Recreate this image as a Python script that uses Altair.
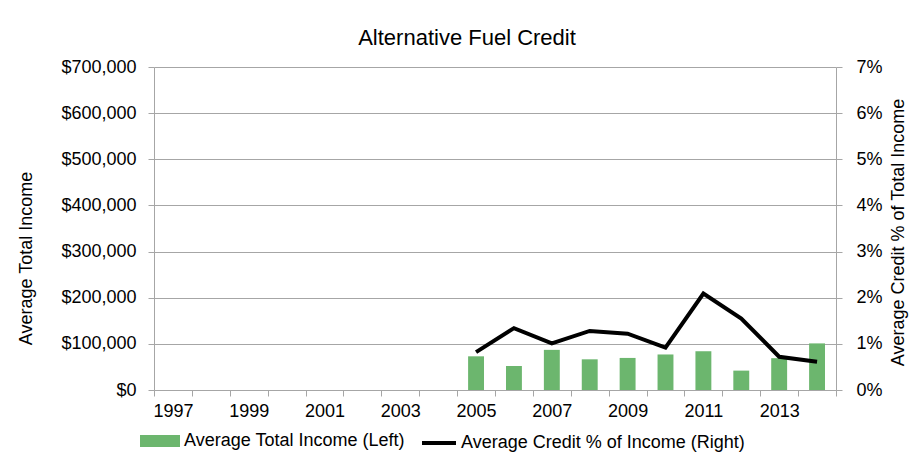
import altair as alt
import pandas as pd

# ---- data ----
all_years = list(range(1997, 2015))
years = [2005, 2006, 2007, 2008, 2009, 2010, 2011, 2012, 2013, 2014]
avg_income = [73000, 52000, 87000, 66500, 69500, 77000, 84000, 42000, 69000, 101000]
credit_pct = [0.0082, 0.0134, 0.0101, 0.0128, 0.0122, 0.0092, 0.0209, 0.0155, 0.0072, 0.0061]

income_label = "Average Total Income (Left)"
credit_label = "Average Credit % of Income (Right)"

df = pd.DataFrame({
    "year": years,
    "income": avg_income,
    "credit": credit_pct,
    "s1": [income_label] * len(years),
    "s2": [credit_label] * len(years),
})

FONT = "Liberation Sans"
GRAY = "#a6a6a6"
GREEN = "#6cb66e"

x_enc = alt.X(
    "year:O",
    scale=alt.Scale(domain=all_years, paddingInner=0, paddingOuter=0),
    axis=alt.Axis(
        title=None,
        labelAngle=0,
        labelExpr="datum.value % 2 == 1 ? datum.label : ''",
        tickBand="extent",
        tickSize=6,
        tickColor=GRAY,
        domainColor=GRAY,
        labelPadding=6,
        grid=False,
    ),
)

bars = alt.Chart(df).mark_bar(width=alt.RelativeBandSize(0.42)).encode(
    x=x_enc,
    y=alt.Y(
        "income:Q",
        scale=alt.Scale(domain=[0, 700000]),
        axis=alt.Axis(
            title="Average Total Income",
            format="$,.0f",
            values=[0, 100000, 200000, 300000, 400000, 500000, 600000, 700000],
            grid=True,
            gridColor=GRAY,
            tickColor=GRAY,
            domainColor=GRAY,
            tickSize=6,
            labelPadding=12,
            titleAngle=-90,
            titleX=-128,
            titleY=191,
            titleAlign="center",
            titleBaseline="middle",
        ),
    ),
    fill=alt.Fill(
        "s1:N",
        scale=alt.Scale(domain=[income_label], range=[GREEN]),
        legend=alt.Legend(
            title=None,
            orient="none",
            legendX=-14,
            legendY=354,
            symbolType="M-1,-0.3H1V0.3H-1Z",
            symbolSize=1600,
            symbolStrokeWidth=0,
            labelLimit=500,
            labelOffset=4,
            padding=0,
        ),
    ),
)

line = alt.Chart(df).mark_line(strokeWidth=4, color="black").encode(
    x=x_enc,
    y=alt.Y(
        "credit:Q",
        scale=alt.Scale(domain=[0, 0.07]),
        axis=alt.Axis(
            title="Average Credit % of Total Income",
            orient="right",
            format=".0%",
            values=[0, 0.01, 0.02, 0.03, 0.04, 0.05, 0.06, 0.07],
            grid=False,
            tickColor=GRAY,
            domainColor=GRAY,
            tickSize=6,
            labelPadding=14,
            titleAngle=270,
            titleX=67,
            titleY=165,
            titleAlign="center",
            titleBaseline="alphabetic",
        ),
    ),
    stroke=alt.Stroke(
        "s2:N",
        scale=alt.Scale(domain=[credit_label], range=["black"]),
        legend=alt.Legend(
            title=None,
            orient="none",
            legendX=266,
            legendY=357,
            symbolType="stroke",
            symbolSize=1156,
            symbolStrokeWidth=4,
            labelLimit=500,
            labelOffset=3,
            padding=0,
        ),
    ),
)

chart = (
    alt.layer(bars, line)
    .resolve_scale(y="independent", fill="independent", stroke="independent")
    .properties(
        width=682,
        height=323,
        padding={"left": 146, "top": 59, "right": 73, "bottom": 63},
        autosize=alt.AutoSizeParams(type="none"),
        title=alt.Title(
            "Alternative Fuel Credit",
            anchor="middle",
            frame="group",
            dx=-28,
            offset=8,
            fontSize=22,
            fontWeight="normal",
            font=FONT,
            color="black",
        ),
    )
    .configure_view(stroke=None)
    .configure_axis(
        labelFont=FONT,
        labelFontSize=18,
        labelColor="black",
        titleFont=FONT,
        titleFontSize=18,
        titleFontWeight="normal",
        titleColor="black",
    )
    .configure_legend(
        labelFont=FONT,
        labelFontSize=18,
        labelColor="black",
    )
)

chart.save("out.html", embed_options={"renderer": "svg", "actions": False})
